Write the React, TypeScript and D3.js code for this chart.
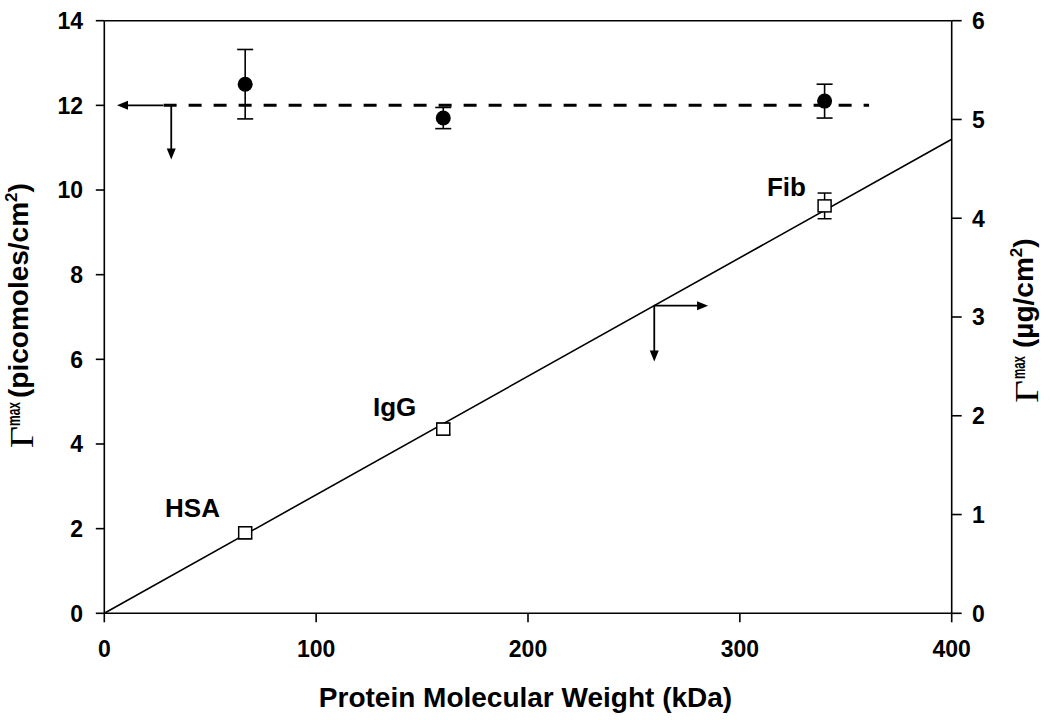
import React from 'react';
import * as d3 from 'd3';

// ---- data ----
const proteins = ['HSA', 'IgG', 'Fib'];
const molecularWeight = [66.5, 160, 340];            // kDa
const molarMax = [12.5, 11.7, 12.1];                 // picomoles/cm2 (left axis)
const molarErr = [0.82, 0.25, 0.4];
const massMax = [0.815, 1.865, 4.125];               // ug/cm2 (right axis)
const massErr = [0.06, 0.06, 0.13];
const fitX = [0, 400];
const fitY = [0, 4.8];                               // right axis
const meanX = [28, 361];
const meanY = [12, 12];                              // left axis
const xTicks = [0, 100, 200, 300, 400];
const leftTicks = [0, 2, 4, 6, 8, 10, 12, 14];
const rightTicks = [0, 1, 2, 3, 4, 5, 6];
// label anchors (data units: x kDa, y left axis)
const labelX = [28.7, 126.8, 312.8];
const labelY = [2.28, 4.67, 9.85];
// axis-indicator arrows: corner, horizontal tip x, vertical tip y
const arrowLeft = { x: 31.6, y: 12, tipX: 6, tipY: 10.72 };     // left axis units
const arrowRight = { x: 259.6, y: 3.115, tipX: 285, tipY: 2.55 }; // right axis units

const W = 1050, H = 720;
const m = { left: 104.3, right: 951.7, top: 20.7, bottom: 613.3 };
const FONT = '"Liberation Sans", Arial, Helvetica, sans-serif';
const SERIF = '"Liberation Serif", "Times New Roman", serif';

export default function App() {
  const x = d3.scaleLinear().domain([0, 400]).range([m.left, m.right]);
  const yL = d3.scaleLinear().domain([0, 14]).range([m.bottom, m.top]);
  const yR = d3.scaleLinear().domain([0, 6]).range([m.bottom, m.top]);

  const fitLine = d3.line<number>().x((d, i) => x(fitX[i])).y((d) => yR(d))(fitY) || '';
  const meanLine = d3.line<number>().x((d, i) => x(meanX[i])).y((d) => yL(d))(meanY) || '';

  const sw = 1.6;

  const arrowHead = (tx: number, ty: number, dir: 'left' | 'right' | 'down') => {
    const L = 11, hw = 4.5;
    let pts: [number, number][];
    if (dir === 'left') pts = [[tx, ty], [tx + L, ty - hw], [tx + L, ty + hw]];
    else if (dir === 'right') pts = [[tx, ty], [tx - L, ty - hw], [tx - L, ty + hw]];
    else pts = [[tx, ty], [tx - hw, ty - L], [tx + hw, ty - L]];
    return <polygon points={pts.map((p) => p.join(',')).join(' ')} fill="#000" />;
  };

  const a1cx = x(arrowLeft.x), a1cy = yL(arrowLeft.y);
  const a1tx = x(arrowLeft.tipX), a1ty = yL(arrowLeft.tipY);
  const a2cx = x(arrowRight.x), a2cy = yR(arrowRight.y);
  const a2tx = x(arrowRight.tipX), a2ty = yR(arrowRight.tipY);

  return (
    <svg width={W} height={H} style={{ position: 'absolute', left: 0, top: 0, background: '#fff' }}
      fontFamily={FONT}>
      <rect width={W} height={H} fill="#fff" />
      {/* frame */}
      <line x1={m.left} x2={m.right} y1={m.top} y2={m.top} stroke="#000" strokeWidth={sw} />
      <line x1={m.left} x2={m.right} y1={m.bottom} y2={m.bottom} stroke="#000" strokeWidth={sw} />
      <line x1={m.left} x2={m.left} y1={m.top} y2={m.bottom} stroke="#000" strokeWidth={sw} />
      <line x1={m.right} x2={m.right} y1={m.top} y2={m.bottom} stroke="#000" strokeWidth={sw} />

      {/* bottom ticks */}
      {xTicks.map((t) => (
        <g key={'xt' + t}>
          <line x1={x(t)} x2={x(t)} y1={m.bottom} y2={m.bottom + 9} stroke="#000" strokeWidth={sw} />
          <text x={x(t)} y={657} textAnchor="middle" fontSize={23} fontWeight="bold">{t}</text>
        </g>
      ))}
      {/* left ticks */}
      {leftTicks.map((t) => (
        <g key={'lt' + t}>
          <line x1={m.left - 8.5} x2={m.left} y1={yL(t)} y2={yL(t)} stroke="#000" strokeWidth={sw} />
          <text x={83} y={yL(t) + 8.3} textAnchor="end" fontSize={23} fontWeight="bold">{t}</text>
        </g>
      ))}
      {/* right ticks */}
      {rightTicks.map((t) => (
        <g key={'rt' + t}>
          <line x1={m.right} x2={m.right + 10} y1={yR(t)} y2={yR(t)} stroke="#000" strokeWidth={sw} />
          <text x={972} y={yR(t) + 8.3} textAnchor="start" fontSize={23} fontWeight="bold">{t}</text>
        </g>
      ))}

      {/* fit line */}
      <path d={fitLine} fill="none" stroke="#000" strokeWidth={1.6} />
      {/* mean dashed line */}
      <path d={meanLine} fill="none" stroke="#000" strokeWidth={3} strokeDasharray="13 12" />

      {/* arrows */}
      <line x1={a1cx - 8} x2={a1tx + 6} y1={a1cy} y2={a1cy} stroke="#000" strokeWidth={1.8} />
      {arrowHead(a1tx, a1cy, 'left')}
      <line x1={a1cx} x2={a1cx} y1={a1cy} y2={a1ty - 6} stroke="#000" strokeWidth={1.8} />
      {arrowHead(a1cx, a1ty, 'down')}
      <line x1={a2cx} x2={a2tx - 6} y1={a2cy} y2={a2cy} stroke="#000" strokeWidth={1.8} />
      {arrowHead(a2tx, a2cy, 'right')}
      <line x1={a2cx} x2={a2cx} y1={a2cy} y2={a2ty - 6} stroke="#000" strokeWidth={1.8} />
      {arrowHead(a2cx, a2ty, 'down')}

      {/* molar series: filled circles with error bars */}
      {molecularWeight.map((mw, i) => {
        const cx = x(mw);
        const top = yL(molarMax[i] + molarErr[i]);
        const bot = yL(molarMax[i] - molarErr[i]);
        return (
          <g key={'c' + i}>
            <line x1={cx} x2={cx} y1={top} y2={bot} stroke="#000" strokeWidth={1.6} />
            <line x1={cx - 8} x2={cx + 8} y1={top} y2={top} stroke="#000" strokeWidth={1.6} />
            <line x1={cx - 8} x2={cx + 8} y1={bot} y2={bot} stroke="#000" strokeWidth={1.6} />
            <circle cx={cx} cy={yL(molarMax[i])} r={7.5} fill="#000" />
          </g>
        );
      })}

      {/* mass series: open squares with error bars */}
      {molecularWeight.map((mw, i) => {
        const cx = x(mw);
        const cy = yR(massMax[i]);
        const top = yR(massMax[i] + massErr[i]);
        const bot = yR(massMax[i] - massErr[i]);
        return (
          <g key={'s' + i}>
            <line x1={cx} x2={cx} y1={top} y2={bot} stroke="#000" strokeWidth={1.5} />
            <line x1={cx - 7} x2={cx + 7} y1={top} y2={top} stroke="#000" strokeWidth={1.5} />
            <line x1={cx - 7} x2={cx + 7} y1={bot} y2={bot} stroke="#000" strokeWidth={1.5} />
            <rect x={cx - 6.5} y={cy - 6} width={13} height={12} fill="#fff" stroke="#000" strokeWidth={1.5} />
          </g>
        );
      })}

      {/* protein labels */}
      {proteins.map((p, i) => (
        <text key={'lbl' + p} x={x(labelX[i])} y={yL(labelY[i])} fontSize={26} fontWeight="bold">{p}</text>
      ))}

      {/* x axis title */}
      <text x={525.5} y={707} textAnchor="middle" fontSize={28} fontWeight="bold">
        Protein Molecular Weight (kDa)
      </text>

      {/* left axis title */}
      <g transform="translate(0,448) rotate(-90)">
        <text x={0} y={33} fontFamily={SERIF} fontSize={33} textLength={22} lengthAdjust="spacingAndGlyphs">Γ</text>
        <text x={22} y={20} fontSize={18} fontWeight="bold" textLength={24} lengthAdjust="spacingAndGlyphs">max</text>
        <text x={50} y={28} fontSize={28} fontWeight="bold">
          (picomoles/cm<tspan fontSize={17} dy={-11}>2</tspan><tspan dy={11}>)</tspan>
        </text>
      </g>

      {/* right axis title */}
      <g transform="translate(0,403) rotate(-90)">
        <text x={0} y={1038} fontFamily={SERIF} fontSize={33} textLength={23} lengthAdjust="spacingAndGlyphs">Γ</text>
        <text x={24} y={1025} fontSize={18} fontWeight="bold" textLength={23} lengthAdjust="spacingAndGlyphs">max</text>
        <text x={55} y={1033} fontSize={28} fontWeight="bold">
          (µg/cm<tspan fontSize={17} dy={-11}>2</tspan><tspan dy={11}>)</tspan>
        </text>
      </g>
    </svg>
  );
}
